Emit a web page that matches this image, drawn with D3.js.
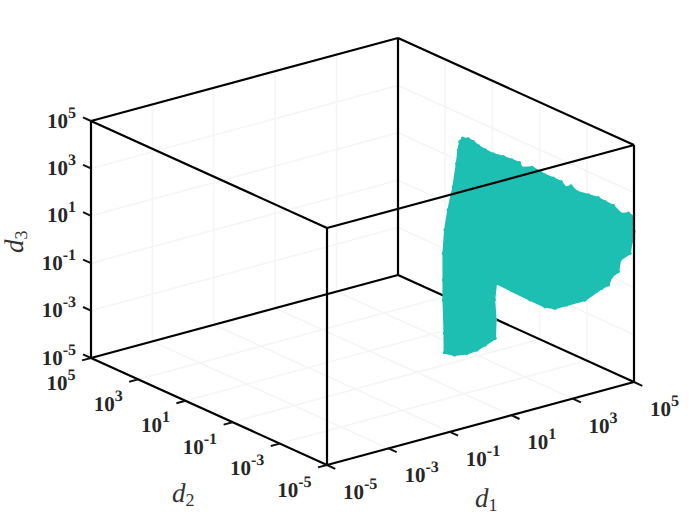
<!DOCTYPE html>
<html>
<head>
<meta charset="utf-8">
<script src="https://cdn.jsdelivr.net/npm/d3@7/dist/d3.min.js"></script>
<style>html,body{margin:0;padding:0;background:#fff}svg{display:block}text{text-rendering:geometricPrecision}</style>
</head>
<body>
<script>
const tickExponents = [-5, -3, -1, 1, 3, 5];
const tickLabels = ["-5", "-3", "-1", "1", "3", "5"];
const axisNames = ["1", "2", "3"];
// point-cloud boundary, log10 of d1, d2, d3
const cloudD1 = [2.18,2.27,2.35,2.44,2.55,2.68,2.85,2.99,3.11,3.15,3.32,3.45,3.53,3.67,3.80,3.88,3.96,4.06,4.25,4.41,4.52,4.66,4.79,4.91,4.99,5,4.96,4.93,4.77,4.74,4.63,4.58,4.47,4.19,3.89,3.70,3.53,3.29,2.73,2.70,2.72,2.71,2.55,2.41,2.24,2.04,1.88,1.88,1.86,1.86,1.86,1.89,1.94,2.02,2.08,2.11,2.13];
const cloudD2 = [-1.41,-1.53,-1.63,-1.74,-1.88,-2.05,-2.26,-2.44,-2.60,-2.65,-2.86,-3.03,-3.14,-3.31,-3.47,-3.57,-3.68,-3.80,-4.04,-4.25,-4.39,-4.57,-4.73,-4.88,-4.99,-5,-4.95,-4.92,-4.71,-4.67,-4.53,-4.46,-4.32,-3.97,-3.59,-3.35,-3.14,-2.82,-2.11,-2.07,-2.10,-2.09,-1.88,-1.71,-1.50,-1.24,-1.03,-1.03,-1.01,-1.01,-1.01,-1.04,-1.11,-1.22,-1.29,-1.32,-1.36];
const cloudD3 = [4.65,4.64,4.55,4.38,4.24,4.10,4.02,3.92,3.83,3.63,3.68,3.53,3.41,3.30,3.18,2.95,3.04,2.82,2.72,2.64,2.50,2.36,2.04,2.10,1.97,1.34,0.91,0.42,0.10,-0.40,-0.64,-1.00,-1.17,-1.72,-2.00,-2.18,-2.15,-1.92,-1.34,-2.05,-2.89,-3.67,-3.99,-4.23,-4.41,-4.52,-4.46,-3.64,-2.24,-1.40,-0.27,0.72,1.57,2.57,3.57,4.14,4.50];

const W = 700, H = 525;
const svg = d3.select("body").append("svg").attr("width", W).attr("height", H);

const lo = 1e-5, hi = 1e5;
// The log scale gives the fraction along a box edge; edges are combined by the view projection.
const sx = d3.scaleLog().domain([lo, hi]).range([0, 1]);
const origin = [327, 465], e1 = [307, -83], e2 = [-236, -107], e3 = [0, -237];
const project = (a, b, c) => {
  const u = sx(a), v = sx(b), w = sx(c);
  return [origin[0] + u*e1[0] + v*e2[0] + w*e3[0],
          origin[1] + u*e1[1] + v*e2[1] + w*e3[1]];
};
const ex = e => Math.pow(10, e);
const line = d3.line();
const seg = (g, p, q) => g.append("path").attr("d", line([p, q]));
const ticks = tickExponents.map(ex);

// Grid on back walls and floor
const grid = svg.append("g").attr("fill", "none").attr("stroke", "#f5f5f5").attr("stroke-width", 1.6);
ticks.slice(1, -1).forEach(t => {
  seg(grid, project(t, lo, lo), project(t, hi, lo));
  seg(grid, project(t, hi, lo), project(t, hi, hi));
  seg(grid, project(lo, t, lo), project(hi, t, lo));
  seg(grid, project(hi, t, lo), project(hi, t, hi));
  seg(grid, project(lo, hi, t), project(hi, hi, t));
  seg(grid, project(hi, hi, t), project(hi, lo, t));
});

// Back box edges
const back = svg.append("g").attr("fill", "none").attr("stroke", "#000").attr("stroke-width", 2.2);
seg(back, project(lo, hi, lo), project(hi, hi, lo));
seg(back, project(hi, hi, lo), project(hi, lo, lo));
seg(back, project(hi, hi, lo), project(hi, hi, hi));
seg(back, project(lo, hi, hi), project(hi, hi, hi));
seg(back, project(hi, hi, hi), project(hi, lo, hi));

// Cloud
const teal = "#1dbfb2";
const cloud = cloudD1.map((d, i) => project(ex(d), ex(cloudD2[i]), ex(cloudD3[i])));
svg.append("path").attr("d", d3.line()(cloud) + "Z").attr("fill", teal).attr("stroke", teal).attr("stroke-width", 2);
svg.append("g").attr("fill", teal).selectAll("circle").data(cloud).join("circle")
  .attr("cx", d => d[0]).attr("cy", d => d[1]).attr("r", 1.7);

// Front box edges
const front = svg.append("g").attr("fill", "none").attr("stroke", "#000").attr("stroke-width", 2.2);
seg(front, project(lo, lo, hi), project(hi, lo, hi));
seg(front, project(lo, lo, hi), project(lo, hi, hi));
seg(front, project(lo, lo, lo), project(lo, lo, hi));
seg(front, project(lo, hi, lo), project(lo, hi, hi));
seg(front, project(hi, lo, lo), project(hi, lo, hi));
seg(front, project(lo, lo, lo), project(hi, lo, lo));
seg(front, project(lo, lo, lo), project(lo, hi, lo));

// Ticks
const tickG = svg.append("g").attr("fill", "none").attr("stroke", "#111").attr("stroke-width", 2);
ticks.forEach(t => {
  const a = project(t, lo, lo), b = project(lo, t, lo), c = project(lo, hi, t);
  seg(tickG, a, [a[0] + 8.3, a[1] + 3.8]);
  seg(tickG, b, [b[0] - 9, b[1] + 2.4]);
  seg(tickG, c, [c[0] - 8, c[1] - 3.6]);
});

// Tick labels
const labelFont = "'Liberation Serif'";
function tickLabel(pos, txt, anchor) {
  const t = svg.append("text").attr("x", pos[0]).attr("y", pos[1]).attr("text-anchor", anchor)
    .attr("font-family", labelFont).attr("font-weight", "bold").attr("font-size", 21).attr("fill", "#262626");
  t.append("tspan").text("10");
  t.append("tspan").attr("dy", -10).attr("font-size", 16).text(txt);
}
ticks.forEach((t, i) => {
  const a = project(t, lo, lo), b = project(lo, t, lo), c = project(lo, hi, t);
  tickLabel([a[0] + 16, a[1] + 34], tickLabels[i], "start");
  tickLabel([b[0] - 15.5, b[1] + 31.5], tickLabels[i], "end");
  tickLabel([c[0] - 15, c[1] + 6.5], tickLabels[i], "end");
});

// Axis labels
function axisLabel(x, y, rot, sub) {
  const t = svg.append("text").attr("transform", `translate(${x},${y}) rotate(${rot})`)
    .attr("font-family", labelFont).attr("font-size", 27).attr("fill", "#333");
  t.append("tspan").attr("font-style", "italic").text("d");
  t.append("tspan").attr("dy", 4).attr("font-size", 18).text(sub);
}
axisLabel(475, 507, 0, axisNames[0]);
axisLabel(172, 502, 0, axisNames[1]);
axisLabel(23, 253, -90, axisNames[2]);
</script>
</body>
</html>
